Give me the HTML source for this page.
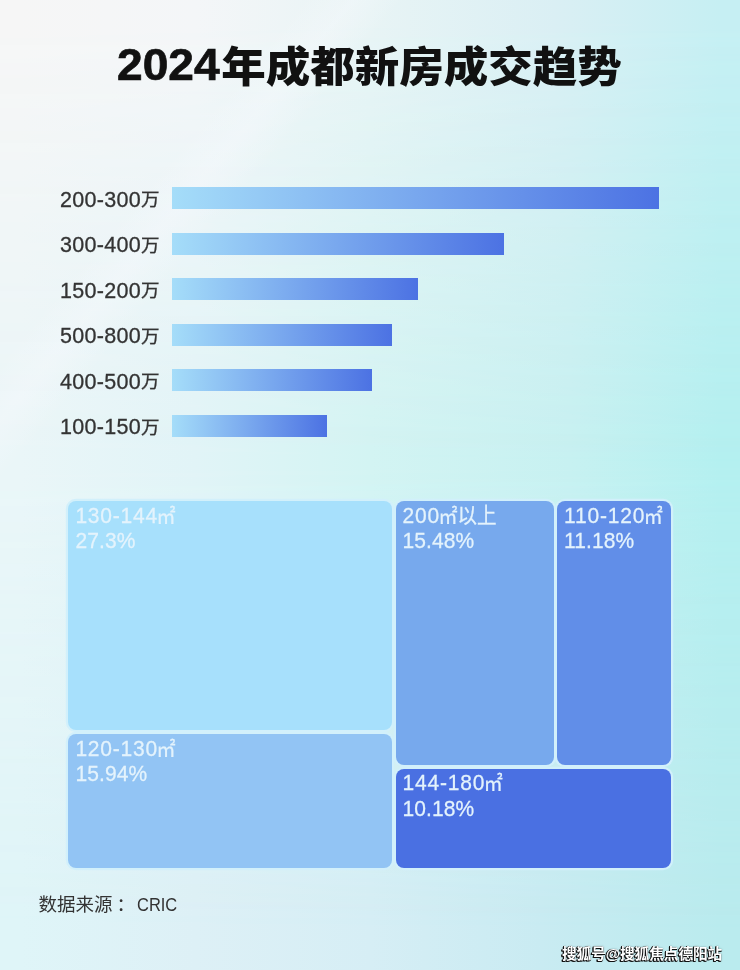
<!DOCTYPE html>
<html lang="zh-CN">
<head>
<meta charset="utf-8">
<title>2024年成都新房成交趋势</title>
<style>
html,body{margin:0;padding:0;}
body{width:740px;height:970px;overflow:hidden;position:relative;
  font-family:"Liberation Sans","Noto Sans CJK SC",sans-serif;
  background:#dff3f5;}
.bg{position:absolute;left:0;top:0;width:740px;height:970px;}
#bgA{background:linear-gradient(90deg,#dff5f8 2.7%,#ddf0f6 26.4%,#d6eef5 50%,#c9ebf2 73%,#baebee 97.3%);}
#bgB{background:linear-gradient(90deg,#eaf6f8 2.7%,#e1f4f7 26.4%,#d3f4f3 50%,#c7f1f1 77%,#b4f0f0 97.3%);
  -webkit-mask-image:linear-gradient(to bottom,#000 0,#000 465px,transparent 930px);
  mask-image:linear-gradient(to bottom,#000 0,#000 465px,transparent 930px);}
#bgC{background:linear-gradient(90deg,#f6f6f6 2.7%,#f4f6f8 26.4%,#e8f4f5 50%,#daeff4 75%,#c6eff3 97.3%);
  -webkit-mask-image:linear-gradient(to bottom,#000 0,#000 20px,transparent 465px);
  mask-image:linear-gradient(to bottom,#000 0,#000 20px,transparent 465px);}
#bgD{background:linear-gradient(130deg,rgba(255,255,255,0) 19.5%,rgba(250,250,255,0.3) 22.7%,rgba(255,255,255,0) 26%);}
h1{position:absolute;left:0;top:0;width:740px;height:110px;margin:0;font-size:44.5px;line-height:64px;font-weight:900;color:#111;white-space:nowrap;}
h1 span{position:absolute;display:block;}
h1 .n{left:116.6px;top:33px;font-size:43.9px;-webkit-text-stroke:0.7px #111;transform:scaleX(1.05);transform-origin:0 50%;}
h1 .c{left:221.2px;top:35px;transform:scaleY(0.95);transform-origin:0 51.4px;}
.lab{position:absolute;left:60px;-webkit-text-stroke:0.3px #333;font-size:21.5px;line-height:24px;color:#333;white-space:nowrap;letter-spacing:0.3px;}
.lab span{position:relative;top:-0.7px;font-size:18.5px;line-height:0;letter-spacing:0;}
.bar{position:absolute;left:172.2px;height:22px;background:linear-gradient(90deg,#a5ddf9 0%,#4c72e3 100%);}
.box{position:absolute;border-radius:8px;box-shadow:0 0 0 2.2px #d2f0fb;color:#e4f3fc;-webkit-text-stroke:0.25px #e4f3fc;font-size:21px;line-height:25.5px;white-space:nowrap;}
.box div{position:absolute;left:7px;height:25.5px;transform:scaleY(1.09);transform-origin:0 12.5px;}
.box .l1{top:0.6px;letter-spacing:0.8px;}
.box .l2{top:26.2px;letter-spacing:0.1px;}
.box .m{position:relative;top:1px;margin-left:-1.5px;font-size:19px;line-height:0;letter-spacing:0;}
.box .c{font-size:19.5px;line-height:0;letter-spacing:0;}
#src{position:absolute;left:38.5px;top:893.2px;font-size:18.5px;line-height:24px;color:#333;white-space:nowrap;}
#src b{font-weight:400;position:relative;left:4px;}
#src span{display:inline-block;transform:scaleX(0.89);transform-origin:0 50%;margin-left:5.7px;}
#wm{position:absolute;left:562px;top:943px;font-size:14.6px;line-height:22px;color:#fff;font-weight:700;text-shadow:-1px 1px 0 #111,-1px 0 0 #111,0 1px 0 #111,-1.4px 1.4px 0.5px rgba(0,0,0,0.6),0 0 1.5px rgba(0,0,0,0.5);white-space:nowrap;}
</style>
</head>
<body>
<div class="bg" id="bgA"></div><div class="bg" id="bgB"></div><div class="bg" id="bgC"></div><div class="bg" id="bgD"></div>
<h1><span class="n">2024</span><span class="c">年成都新房成交趋势</span></h1>

<div class="lab" style="top:187.7px">200-300<span>万</span></div><div class="bar" style="top:187px;width:487.3px"></div>
<div class="lab" style="top:233.25px">300-400<span>万</span></div><div class="bar" style="top:232.55px;width:331.5px"></div>
<div class="lab" style="top:278.8px">150-200<span>万</span></div><div class="bar" style="top:278.1px;width:245.6px"></div>
<div class="lab" style="top:324.35px">500-800<span>万</span></div><div class="bar" style="top:323.65px;width:219.9px"></div>
<div class="lab" style="top:369.9px">400-500<span>万</span></div><div class="bar" style="top:369.2px;width:199.6px"></div>
<div class="lab" style="top:415.45px">100-150<span>万</span></div><div class="bar" style="top:414.75px;width:155.1px"></div>

<div class="box" style="left:68.4px;top:501.2px;width:323.6px;height:228.5px;background:#a7e0fc"><div class="l1">130-144<span class="m">㎡</span></div><div class="l2">27.3%</div></div>
<div class="box" style="left:68.4px;top:734px;width:323.6px;height:134.4px;background:#92c4f4"><div class="l1">120-130<span class="m">㎡</span></div><div class="l2">15.94%</div></div>
<div class="box" style="left:395.5px;top:501.2px;width:158.5px;height:263.8px;background:#77a9ed"><div class="l1">200<span class="m">㎡</span><span class="c">以上</span></div><div class="l2">15.48%</div></div>
<div class="box" style="left:557px;top:501.2px;width:113.7px;height:263.8px;background:#618ee8"><div class="l1">110-120<span class="m">㎡</span></div><div class="l2">11.18%</div></div>
<div class="box" style="left:395.5px;top:768.6px;width:275.2px;height:99.8px;background:#4a70e2"><div class="l1">144-180<span class="m">㎡</span></div><div class="l2">10.18%</div></div>

<div id="src">数据来源<b>：</b><span>CRIC</span></div>
<div id="wm">搜狐号@搜狐焦点德阳站</div>
</body>
</html>
